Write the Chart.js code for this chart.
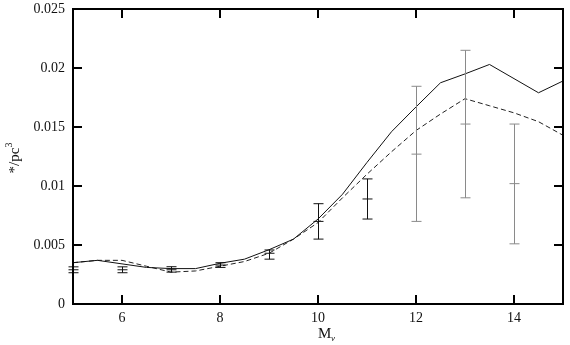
<!DOCTYPE html>
<html lang="en">
<head>
    <meta charset="UTF-8">
    <title>Luminosity function</title>
    <script src="https://cdn.jsdelivr.net/npm/chart.js"></script>
    <style>
        body { margin: 0; background: #fff; }
        .chart-container { width: 570px; height: 345px; position: relative; }
    </style>
</head>
<body>
    <div class="chart-container">
        <canvas id="lfChart"></canvas>
    </div>

    <script>
        // magnitudes for the two curves
        const mag = [5, 5.5, 6, 6.5, 7, 7.5, 8, 8.5, 9, 9.5, 10, 10.5, 11, 11.5, 12, 12.5, 13, 13.5, 14, 14.5, 15];
        const solidCurve = [0.0035, 0.0037, 0.0034, 0.0031, 0.0030, 0.0030, 0.00345, 0.0038, 0.0046, 0.0055, 0.0072,
                            0.0093, 0.0120, 0.0146, 0.0167, 0.01875, 0.0195, 0.0203, 0.0191, 0.0179, 0.0189];
        const dashedCurve = [0.0035, 0.0037, 0.0037, 0.0032, 0.0027, 0.0028, 0.0032, 0.0036, 0.0043, 0.0055, 0.0069,
                             0.0090, 0.0110, 0.0129, 0.0147, 0.0161, 0.0174, 0.0168, 0.0162, 0.01545, 0.0143];

        // observed points with error bars
        const obsMag = [5, 6, 7, 8, 9, 10, 11, 12, 13, 14];
        const obsVal = [0.0029, 0.0029, 0.0029, 0.0033, 0.0043, 0.0070, 0.0089, 0.0127, 0.01525, 0.0102];
        const obsLow = [0.00265, 0.00265, 0.0027, 0.0031, 0.0038, 0.0055, 0.0072, 0.0070, 0.0090, 0.0051];
        const obsHigh = [0.00315, 0.00315, 0.00316, 0.0035, 0.00458, 0.0085, 0.0106, 0.01845, 0.0215, 0.01525];
        const obsFaint = [false, false, false, false, false, false, false, true, true, true];

        // ticks
        const xTicks = [6, 8, 10, 12, 14];
        const yTicks = [0, 0.005, 0.01, 0.015, 0.02, 0.025];
        const yTickLabels = ['0', '0.005', '0.01', '0.015', '0.02', '0.025'];

        const serif = '"Liberation Serif", "DejaVu Serif", serif';

        // error bars: vertical line + caps at low, value, high
        const errorBars = {
            id: 'errorBars',
            afterDatasetsDraw(chart) {
                const { ctx, scales: { x, y } } = chart;
                ctx.save();
                ctx.lineWidth = 1;
                obsMag.forEach((m, i) => {
                    const px = Math.round(x.getPixelForValue(m)) + 0.5;
                    const lo = y.getPixelForValue(obsLow[i]);
                    const hi = y.getPixelForValue(obsHigh[i]);
                    const mid = y.getPixelForValue(obsVal[i]);
                    ctx.strokeStyle = obsFaint[i] ? '#8a8a8a' : '#111';
                    ctx.beginPath();
                    ctx.moveTo(px, lo);
                    ctx.lineTo(px, hi);
                    [lo, mid, hi].forEach(py => {
                        ctx.moveTo(px - 5, py);
                        ctx.lineTo(px + 5, py);
                    });
                    ctx.stroke();
                });
                ctx.restore();
            }
        };

        // frame, inward ticks on all four sides, axis titles
        const frame = {
            id: 'frame',
            afterDraw(chart) {
                const { ctx, chartArea: a, scales: { x, y } } = chart;
                ctx.save();
                ctx.strokeStyle = '#000';
                ctx.lineWidth = 2;
                ctx.strokeRect(a.left, a.top, a.right - a.left, a.bottom - a.top);
                ctx.beginPath();
                xTicks.forEach(v => {
                    const px = x.getPixelForValue(v);
                    ctx.moveTo(px, a.bottom); ctx.lineTo(px, a.bottom - 9);
                    ctx.moveTo(px, a.top); ctx.lineTo(px, a.top + 9);
                });
                yTicks.slice(1, -1).forEach(v => {
                    const py = y.getPixelForValue(v);
                    ctx.moveTo(a.left, py); ctx.lineTo(a.left + 9, py);
                    ctx.moveTo(a.right, py); ctx.lineTo(a.right - 9, py);
                });
                ctx.stroke();

                ctx.fillStyle = '#111';
                // y title: */pc^3
                ctx.translate(14, 158);
                ctx.rotate(-Math.PI / 2);
                ctx.font = '15px ' + serif;
                const base = '*/pc';
                const w1 = ctx.measureText(base).width;
                ctx.font = '10px ' + serif;
                const w2 = ctx.measureText('3').width;
                ctx.textBaseline = 'alphabetic';
                ctx.font = '15px ' + serif;
                ctx.fillText(base, -(w1 + w2) / 2, 5);
                ctx.font = '10px ' + serif;
                ctx.fillText('3', -(w1 + w2) / 2 + w1, -2);
                ctx.setTransform(1, 0, 0, 1, 0, 0);

                // x title: M_v
                ctx.font = '15px ' + serif;
                ctx.fillText('M', 318, 338);
                ctx.font = 'italic 9px ' + serif;
                ctx.fillText('v', 331, 341);
                ctx.restore();
            }
        };

        const ctx = document.getElementById('lfChart').getContext('2d');
        const lfChart = new Chart(ctx, {
            type: 'scatter',
            data: {
                datasets: [
                    {
                        label: 'model',
                        data: mag.map((m, i) => ({ x: m, y: solidCurve[i] })),
                        showLine: true,
                        borderColor: '#111',
                        borderWidth: 1,
                        pointRadius: 0
                    },
                    {
                        label: 'model (dashed)',
                        data: mag.map((m, i) => ({ x: m, y: dashedCurve[i] })),
                        showLine: true,
                        borderColor: '#222',
                        borderWidth: 1,
                        borderDash: [5, 3],
                        pointRadius: 0
                    },
                    {
                        label: 'observed',
                        data: obsMag.map((m, i) => ({ x: m, y: obsVal[i] })),
                        pointRadius: 0
                    }
                ]
            },
            options: {
                responsive: true,
                maintainAspectRatio: false,
                animation: false,
                layout: { padding: { top: 9, right: 7, left: 0, bottom: 0 } },
                plugins: {
                    legend: { display: false },
                    tooltip: { enabled: false }
                },
                scales: {
                    x: {
                        type: 'linear',
                        min: 5,
                        max: 15,
                        grid: { display: false, drawTicks: false },
                        border: { display: false },
                        afterBuildTicks: s => { s.ticks = xTicks.map(v => ({ value: v })); },
                        afterFit: s => { s.height = 41; s.paddingLeft = 0; s.paddingRight = 0; },
                        ticks: {
                            padding: 6,
                            color: '#111',
                            font: { family: serif, size: 14 },
                            maxRotation: 0
                        }
                    },
                    y: {
                        min: 0,
                        max: 0.025,
                        grid: { display: false, drawTicks: false },
                        border: { display: false },
                        afterBuildTicks: s => { s.ticks = yTicks.map(v => ({ value: v })); },
                        afterFit: s => { s.width = 73; s.paddingTop = 0; s.paddingBottom = 0; },
                        ticks: {
                            padding: 8,
                            color: '#111',
                            font: { family: serif, size: 14 },
                            callback: (v, i) => yTickLabels[i]
                        }
                    }
                }
            },
            plugins: [errorBars, frame]
        });
    </script>
</body>
</html>
